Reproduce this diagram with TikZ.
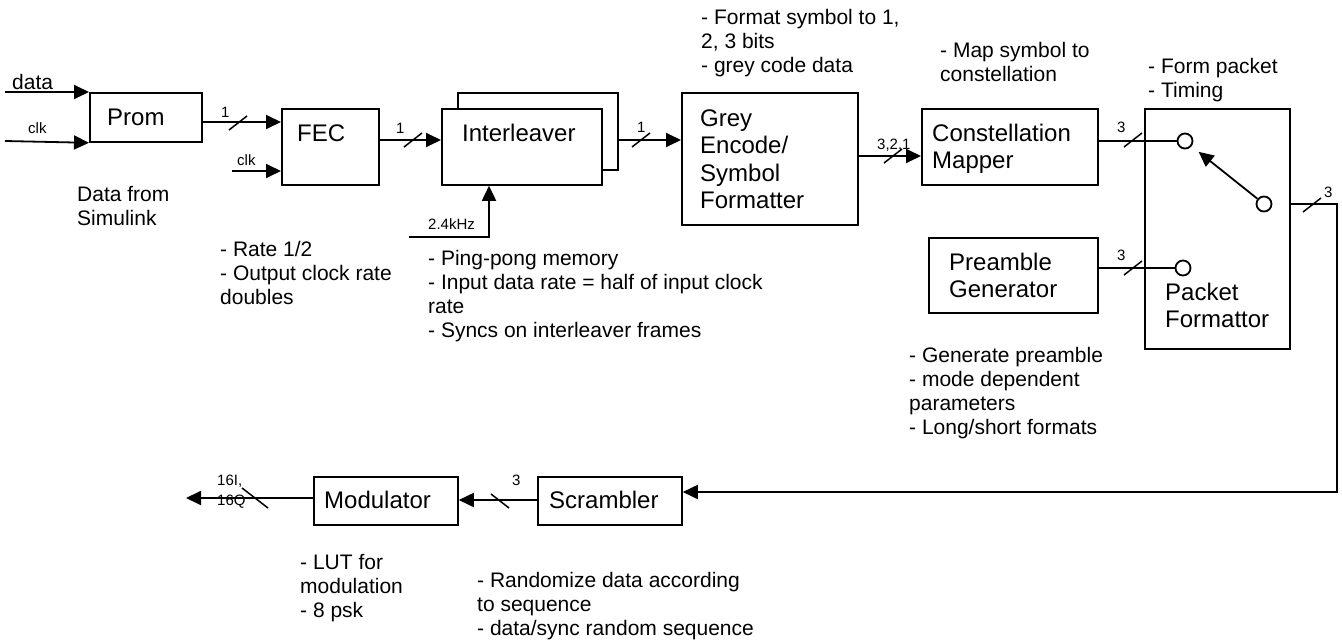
\documentclass[tikz,border=0pt]{standalone}
\usepackage{fontspec}
\setmainfont{Liberation Sans}
\usetikzlibrary{arrows.meta}
\begin{document}
\begin{tikzpicture}[x=1pt,y=-1pt,
  box/.style={draw, line width=1.8pt, inner sep=0, anchor=north west, fill=white},
  knob/.style={draw, circle, line width=1.8pt, minimum size=15pt, inner sep=0, fill=white},
  ln/.style={line width=1.8pt},
  arr/.style={line width=1.8pt, -{Triangle[length=15pt,width=14pt]}},
  boxtxt/.style={font=\fontsize{24}{27.5}\selectfont, anchor=base west, align=left, inner sep=0},
  note/.style={font=\fontsize{21}{24}\selectfont, anchor=base west, align=left, inner sep=0},
  lbl/.style={font=\fontsize{15}{20}\selectfont, anchor=base west, align=left, inner sep=0},
  fslash/.pic={\draw[line width=1.5pt] (-9,7) -- (9,-7);},
  bslash/.pic={\draw[line width=1.5pt] (-9,-7) -- (9,7);},
  bigbslash/.pic={\draw[line width=1.5pt] (-13,-10) -- (13,10);}
]
\useasboundingbox (0,0) rectangle (1342,640);

% boxes
\node[box, minimum width=112pt, minimum height=49pt] (prom) at (89,92) {};
\node[box, minimum width=97pt, minimum height=76pt] (fec) at (281,108) {};
\node[box, minimum width=160pt, minimum height=77pt] (intb) at (457,92) {};
\node[box, minimum width=160pt, minimum height=76pt] (intf) at (441,108) {};
\node[box, minimum width=176pt, minimum height=132pt] (grey) at (681,92) {};
\node[box, minimum width=176pt, minimum height=76pt] (const) at (921,108) {};
\node[box, minimum width=145pt, minimum height=240pt] (pf) at (1144,108) {};
\node[box, minimum width=169pt, minimum height=75pt] (pre) at (928,237) {};
\node[box, minimum width=144pt, minimum height=48pt] (scr) at (537,476) {};
\node[box, minimum width=144pt, minimum height=48pt] (mod) at (313,476) {};

% box texts (anchor = baseline of the last line)
\node[boxtxt] (tprom) at (107,125) {Prom};
\node[boxtxt] (tfec) at (297,141) {FEC};
\node[boxtxt] (tint) at (462,141) {Interleaver};
\node[boxtxt] (tgrey) at (700,208.5) {Grey\\Encode/\\Symbol\\Formatter};
\node[boxtxt] (tconst) at (932,168.5) {Constellation\\Mapper};
\node[boxtxt] (tpre) at (949,297.5) {Preamble\\Generator};
\node[boxtxt] (tpf) at (1165,327.5) {Packet\\Formattor};
\node[boxtxt] (tscr) at (549,508) {Scrambler};
\node[boxtxt] (tmod) at (324,508) {Modulator};

% switch
\node[knob] (c1) at (1185,141) {};
\node[knob] (c2) at (1264,204) {};
\node[knob] (c3) at (1183,268) {};

% free ends
\coordinate (din) at (5,92);
\coordinate (cin) at (5,141);
\coordinate (fkin) at (232,171);
\coordinate (khz) at (409,237);
\coordinate (rc) at (1337,204);
\coordinate (outp) at (186,498);

% connectors
\draw[arr] (din) -- (prom.north west);
\draw[arr] (cin) -- (prom.south west);
\draw[arr] (prom.east |- 0,122) -- (fec.west |- 0,122);
\draw[arr] (fkin) -- (fec.west |- fkin);
\draw[arr] (fec.east |- 0,140) -- (intf.west |- 0,140);
\draw[arr] (khz) -| (intf.south -| 489,0);
\draw[arr] (intb.east |- 0,140) -- (grey.west |- 0,140);
\draw[arr] (grey.east |- 0,156) -- (const.west |- 0,156);
\draw[ln] (const.east |- c1) -- (c1.west);
\draw[ln] (pre.east |- c3) -- (c3.west);
\draw[arr, shorten >=9pt] (c2) -- (c1);
\draw[arr] (pf.east |- c2) -- (rc) |- (scr.east |- 0,492);
\draw[arr] (scr.west |- 0,500) -- (mod.east |- 0,500);
\draw[arr] (mod.west |- 0,498) -- (outp);

% bus marks
\pic at (238,123) {fslash};
\pic at (413,140) {fslash};
\pic at (641,140) {fslash};
\pic at (893,156) {fslash};
\pic at (1133,140) {fslash};
\pic at (1133,268) {fslash};
\pic at (1312,205) {fslash};
\pic at (500,501) {bslash};
\pic at (255,498) {bigbslash};

% small labels
\node[note] (ldata) at (12,89) {data};
\node[lbl] (lclk1) at (28,133) {clk};
\node[lbl] (lone1) at (221,117) {1};
\node[lbl] (lclk2) at (237,165) {clk};
\node[lbl] (lone2) at (396,133) {1};
\node[lbl] (lkhz) at (428,229) {2.4kHz};
\node[lbl] (lone3) at (637,132) {1};
\node[lbl] (l321) at (877,149) {3,2,1};
\node[lbl] (lthr1) at (1117,132) {3};
\node[lbl] (lthr2) at (1117,260) {3};
\node[lbl] (lthr3) at (1324,197) {3};
\node[lbl] (lthr4) at (512,485) {3};
\node[lbl] (l16) at (217,505) {16I,\\16Q};

% notes (anchor = baseline of the last line)
\node[note] (nprom) at (77,225) {Data from\\Simulink};
\node[note] (nfec) at (220,304) {- Rate 1/2\\- Output clock rate\\doubles};
\node[note] (nint) at (428,337) {- Ping-pong memory\\- Input data rate = half of input clock\\rate\\- Syncs on interleaver frames};
\node[note] (ngrey) at (701,72) {- Format symbol to 1,\\2, 3 bits\\- grey code data};
\node[note] (nconst) at (940,81) {- Map symbol to\\constellation};
\node[note] (npf) at (1148,97) {- Form packet\\- Timing};
\node[note] (npre) at (909,434) {- Generate preamble\\- mode dependent\\parameters\\- Long/short formats};
\node[note] (nmod) at (300,617) {- LUT for\\modulation\\- 8 psk};
\node[note] (nscr) at (477,635) {- Randomize data according\\to sequence\\- data/sync random sequence};
\end{tikzpicture}
\end{document}
